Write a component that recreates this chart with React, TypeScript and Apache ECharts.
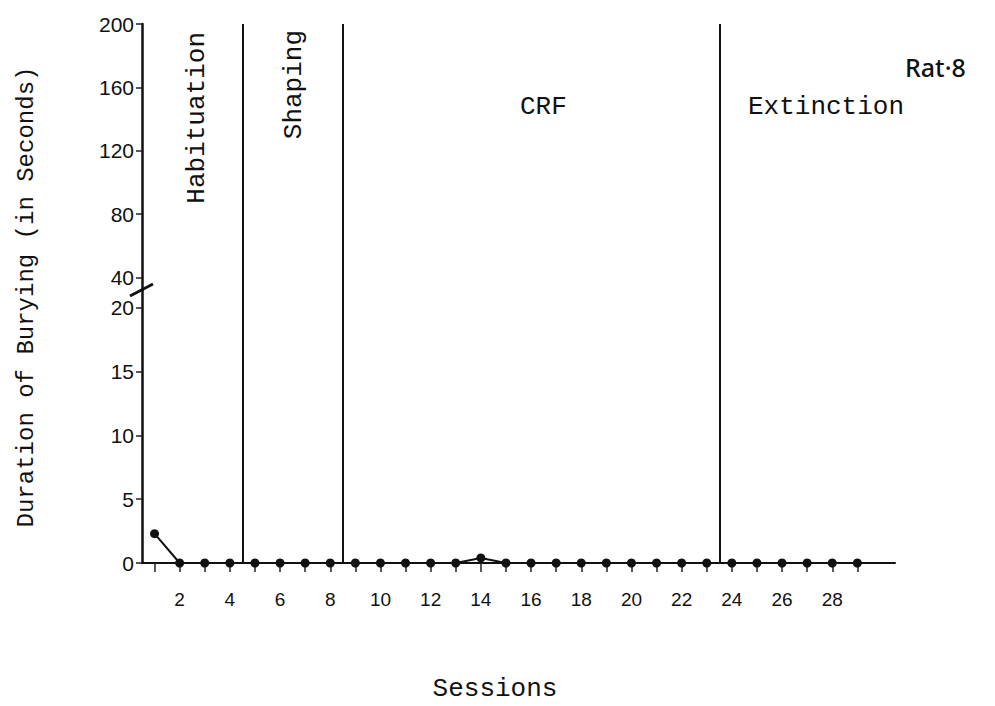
import React, { useEffect, useRef } from "react";
import * as echarts from "echarts";

// ---- data ----
const sessions = [1, 2, 3, 4, 5, 6, 7, 8, 9, 10, 11, 12, 13, 14, 15, 16, 17, 18, 19, 20, 21, 22, 23, 24, 25, 26, 27, 28, 29];
const buryingSeconds = [2.3, 0, 0, 0, 0, 0, 0, 0, 0, 0, 0, 0, 0, 0.4, 0, 0, 0, 0, 0, 0, 0, 0, 0, 0, 0, 0, 0, 0, 0];
const xTickLabels = [2, 4, 6, 8, 10, 12, 14, 16, 18, 20, 22, 24, 26, 28];
const lowerYTicks = [0, 5, 10, 15, 20];
const upperYTicks = [40, 80, 120, 160, 200];
const phaseBoundaries = [4.5, 8.5, 23.5];
const phaseNames = ["Habituation", "Shaping", "CRF", "Extinction"];
const yAxisTitle = "Duration of Burying (in Seconds)";
const xAxisTitle = "Sessions";
const ratLabel = "Rat·8";

const MONO = "'Liberation Mono', 'DejaVu Sans Mono', monospace";
const SANS = "'Liberation Sans', Arial, sans-serif";

export default function App() {
  const ref = useRef<HTMLDivElement>(null);

  useEffect(() => {
    if (!ref.current) return;
    const chart = echarts.init(ref.current, undefined, { renderer: "svg" });

    const markLineCfg = {
      silent: true,
      symbol: ["none", "none"],
      label: { show: false },
      lineStyle: { color: "#111", width: 2, type: "solid" },
      data: phaseBoundaries.map((x) => ({ xAxis: x })),
    };

    const monoText = (
      text: string,
      x: number,
      y: number,
      align: string,
      rotation = 0,
      size = 26
    ) => ({
      type: "text",
      x,
      y,
      rotation,
      silent: true,
      style: {
        text,
        font: `${size}px ${MONO}`,
        fill: "#111",
        textAlign: align,
        align,
        textVerticalAlign: "middle",
        verticalAlign: "middle",
      },
    });

    chart.setOption({
      animation: false,
      backgroundColor: "#fff",
      grid: [
        { left: 142, top: 290, width: 753, height: 273, containLabel: false, outerBoundsMode: "none" },
        { left: 142, top: 24, width: 753, height: 266, containLabel: false, outerBoundsMode: "none" },
      ],
      xAxis: [
        {
          type: "value",
          gridIndex: 0,
          min: 0.5,
          max: 30.5,
          axisLine: { show: true, onZero: false, lineStyle: { color: "#111", width: 2 } },
          axisTick: { show: false },
          axisLabel: { show: false },
          splitLine: { show: false },
        },
        {
          type: "value",
          gridIndex: 0,
          position: "bottom",
          offset: 15,
          min: 0.5,
          max: 30.5,
          axisLine: { show: false },
          axisTick: {
            show: true,
            length: 9,
            customValues: sessions,
            lineStyle: { color: "#222", width: 1.5 },
          },
          axisLabel: {
            show: true,
            customValues: xTickLabels,
            margin: 12,
            fontFamily: SANS,
            fontSize: 19,
            color: "#111",
          },
          splitLine: { show: false },
        },
        {
          type: "value",
          gridIndex: 1,
          min: 0.5,
          max: 30.5,
          show: false,
        },
      ],
      yAxis: [
        {
          type: "value",
          gridIndex: 0,
          min: 0,
          max: 21.4,
          axisLine: { show: true, lineStyle: { color: "#111", width: 2.5 } },
          axisTick: {
            show: true,
            length: 6,
            customValues: lowerYTicks,
            lineStyle: { color: "#222", width: 1.5 },
          },
          axisLabel: {
            show: true,
            customValues: lowerYTicks,
            margin: 8,
            fontFamily: SANS,
            fontSize: 21,
            color: "#111",
          },
          splitLine: { show: false },
        },
        {
          type: "value",
          gridIndex: 1,
          min: 32,
          max: 200,
          axisLine: { show: true, lineStyle: { color: "#111", width: 2.5 } },
          axisTick: {
            show: true,
            length: 6,
            customValues: upperYTicks,
            lineStyle: { color: "#222", width: 1.5 },
          },
          axisLabel: {
            show: true,
            customValues: upperYTicks,
            margin: 8,
            fontFamily: SANS,
            fontSize: 21,
            color: "#111",
          },
          splitLine: { show: false },
        },
      ],
      series: [
        {
          type: "line",
          xAxisIndex: 0,
          yAxisIndex: 0,
          data: sessions.map((s, i) => [s, buryingSeconds[i]]),
          symbol: "circle",
          symbolSize: 9,
          itemStyle: { color: "#111" },
          lineStyle: { color: "#111", width: 2 },
          markLine: markLineCfg,
          z: 3,
        },
        {
          type: "line",
          xAxisIndex: 2,
          yAxisIndex: 1,
          data: [],
          markLine: markLineCfg,
        },
      ],
      graphic: [
        {
          type: "line",
          silent: true,
          shape: { x1: 130, y1: 296, x2: 153, y2: 284 },
          style: { stroke: "#111", lineWidth: 3 },
        },
        monoText(yAxisTitle, 26, 297, "center", Math.PI / 2, 24),
        monoText(phaseNames[0], 197, 32, "right", Math.PI / 2),
        monoText(phaseNames[1], 294, 30, "right", Math.PI / 2),
        monoText(phaseNames[2], 520, 107, "left"),
        monoText(phaseNames[3], 748, 107, "left"),
        monoText(xAxisTitle, 495, 689, "center"),
        {
          type: "text",
          x: 905,
          y: 67,
          silent: true,
          style: {
            text: ratLabel,
            font: `500 25px 'Noto Sans', ${SANS}`,
            fill: "#111",
            textAlign: "left",
            align: "left",
            textVerticalAlign: "middle",
            verticalAlign: "middle",
          },
        },
      ],
    });

    return () => chart.dispose();
  }, []);

  return (
    <div
      ref={ref}
      style={{ position: "absolute", left: 0, top: 0, width: 995, height: 706, background: "#fff" }}
    />
  );
}
